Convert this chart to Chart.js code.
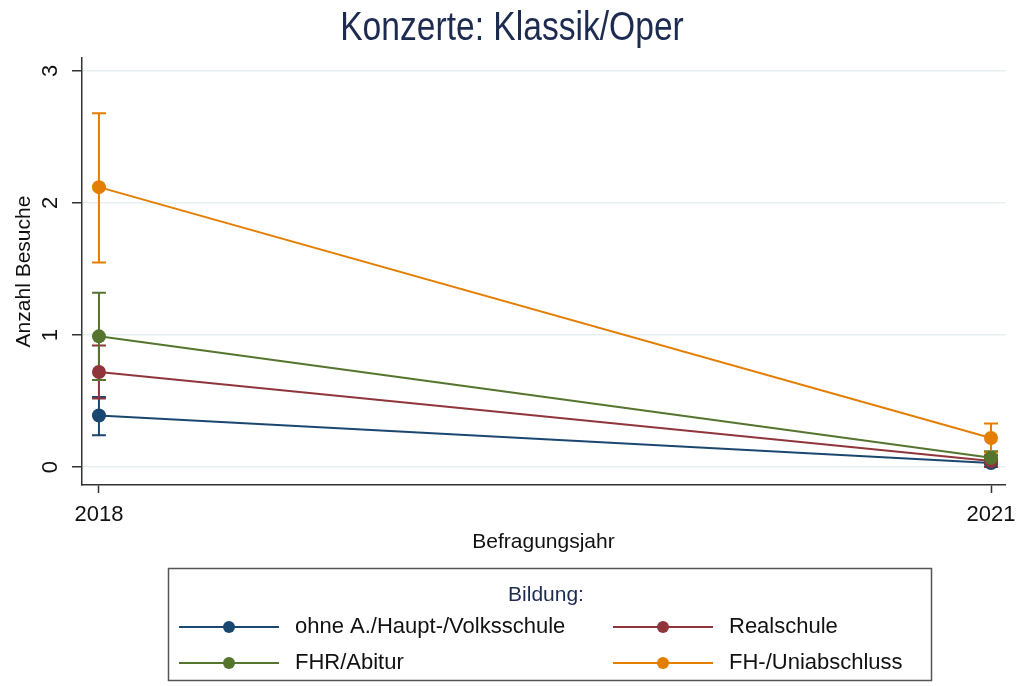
<!DOCTYPE html>
<html lang="de">
<head>
    <meta charset="UTF-8">
    <title>Konzerte: Klassik/Oper</title>
    <script src="https://cdn.jsdelivr.net/npm/chart.js"></script>
    <style>
        html, body { margin: 0; padding: 0; background: #ffffff; }
        #chart { display: block; }
    </style>
</head>
<body>
    <canvas id="chart" width="1019" height="686"></canvas>

    <script>
        // Daten
        const years = [2018, 2021];
        const groups = ['ohne A./Haupt-/Volksschule', 'Realschule', 'FHR/Abitur', 'FH-/Uniabschluss'];
        const colors = ['#1a476f', '#90353b', '#55752f', '#e37e00'];

        const meanOhne = [0.39, 0.03];
        const loOhne   = [0.24, 0.00];
        const hiOhne   = [0.53, 0.06];

        const meanReal = [0.72, 0.045];
        const loReal   = [0.52, 0.00];
        const hiReal   = [0.92, 0.09];

        const meanAbi = [0.99, 0.07];
        const loAbi   = [0.66, 0.02];
        const hiAbi   = [1.32, 0.12];

        const meanUni = [2.12, 0.22];
        const loUni   = [1.55, 0.11];
        const hiUni   = [2.68, 0.33];

        const yTicks = [0, 1, 2, 3];

        const means = [meanOhne, meanReal, meanAbi, meanUni];
        const los = [loOhne, loReal, loAbi, loUni];
        const his = [hiOhne, hiReal, hiAbi, hiUni];

        const FONT = "'Liberation Sans', Arial, sans-serif";
        const NAVY = '#1c2b4f';

        // Konfidenzintervalle (rcap)
        const errorBars = {
            id: 'errorBars',
            beforeDatasetsDraw(chart) {
                const ctx = chart.ctx;
                const xs = chart.scales.x, ys = chart.scales.y;
                chart.data.datasets.forEach((ds, i) => {
                    ctx.save();
                    ctx.strokeStyle = ds.borderColor;
                    ctx.lineWidth = 2;
                    years.forEach((yr, j) => {
                        const px = xs.getPixelForValue(yr);
                        const y1 = ys.getPixelForValue(los[i][j]);
                        const y2 = ys.getPixelForValue(his[i][j]);
                        ctx.beginPath();
                        ctx.moveTo(px, y1); ctx.lineTo(px, y2);
                        ctx.moveTo(px - 7, y1); ctx.lineTo(px + 7, y1);
                        ctx.moveTo(px - 7, y2); ctx.lineTo(px + 7, y2);
                        ctx.stroke();
                    });
                    ctx.restore();
                });
            }
        };

        // Titel, gedrehte y-Beschriftung und Legende
        const decorations = {
            id: 'decorations',
            afterDraw(chart) {
                const ctx = chart.ctx;
                const ys = chart.scales.y;
                ctx.save();

                // Titel schmal (Helvetica-Condensed-Optik)
                ctx.fillStyle = NAVY;
                ctx.font = '40px ' + FONT;
                ctx.textAlign = 'center';
                ctx.textBaseline = 'middle';
                ctx.save();
                ctx.translate(512, 29);
                ctx.scale(0.84, 1);
                ctx.fillText('Konzerte: Klassik/Oper', 0, 0);
                ctx.restore();

                ctx.fillStyle = '#111';
                ctx.font = '22px ' + FONT;
                yTicks.forEach(v => {
                    ctx.save();
                    ctx.translate(51, ys.getPixelForValue(v));
                    ctx.rotate(-Math.PI / 2);
                    ctx.fillText(String(v), 0, 0);
                    ctx.restore();
                });

                // Legende
                ctx.strokeStyle = '#555';
                ctx.lineWidth = 1.5;
                ctx.strokeRect(168.5, 568.5, 763, 112);

                ctx.fillStyle = NAVY;
                ctx.font = '21px ' + FONT;
                ctx.fillText('Bildung:', 546, 595);

                ctx.font = '22px ' + FONT;
                const cols = [229, 663];
                const rows = [627, 663];
                groups.forEach((g, i) => {
                    const cx = cols[i % 2], cy = rows[Math.floor(i / 2)];
                    ctx.strokeStyle = colors[i];
                    ctx.lineWidth = 2;
                    ctx.beginPath();
                    ctx.moveTo(cx - 50, cy); ctx.lineTo(cx + 50, cy);
                    ctx.stroke();
                    ctx.fillStyle = colors[i];
                    ctx.beginPath();
                    ctx.arc(cx, cy, 6, 0, Math.PI * 2);
                    ctx.fill();
                    ctx.fillStyle = '#111';
                    ctx.textAlign = 'left';
                    ctx.fillText(g, cx + 66, cy);
                });

                ctx.restore();
            }
        };

        const datasets = groups.map((g, i) => ({
            label: g,
            data: years.map((yr, j) => ({ x: yr, y: means[i][j] })),
            borderColor: colors[i],
            backgroundColor: colors[i],
            borderWidth: 2,
            pointRadius: 7,
            pointHoverRadius: 7,
            pointBorderWidth: 0,
            showLine: true,
            order: groups.length - i
        }));

        new Chart(document.getElementById('chart').getContext('2d'), {
            type: 'scatter',
            data: { datasets: datasets },
            options: {
                responsive: false,
                animation: false,
                layout: { padding: { left: 0, right: 14, top: 58, bottom: 131 } },
                plugins: {
                    legend: { display: false },
                    title: { display: false },
                    tooltip: { enabled: false }
                },
                scales: {
                    x: {
                        type: 'linear',
                        min: 2017.943,
                        max: 2021.047,
                        afterBuildTicks: s => { s.ticks = years.map(v => ({ value: v })); },
                        afterFit: s => { s.height = 70; s.paddingLeft = 0; s.paddingRight = 0; },
                        grid: { drawOnChartArea: false, tickLength: 8, tickColor: '#333', tickWidth: 1.5 },
                        border: { color: '#333', width: 1.5 },
                        ticks: {
                            color: '#111',
                            font: { family: FONT, size: 22 },
                            padding: 9,
                            maxRotation: 0,
                            callback: v => String(v)
                        },
                        title: {
                            display: true,
                            text: 'Befragungsjahr',
                            color: '#111',
                            font: { family: FONT, size: 21 },
                            padding: { top: 3, bottom: 0 }
                        }
                    },
                    y: {
                        min: -0.136,
                        max: 3.098,
                        afterBuildTicks: s => { s.ticks = yTicks.map(v => ({ value: v })); },
                        afterFit: s => { s.width = 82; },
                        grid: { color: '#e6eff1', lineWidth: 1.5, tickLength: 10, tickColor: '#333', tickWidth: 1.5 },
                        border: { color: '#333', width: 1.5 },
                        ticks: { display: false },
                        title: {
                            display: true,
                            text: 'Anzahl Besuche',
                            color: '#111',
                            font: { family: FONT, size: 21 },
                            padding: { top: 12, bottom: 0 }
                        }
                    }
                }
            },
            plugins: [errorBars, decorations]
        });
    </script>
</body>
</html>
